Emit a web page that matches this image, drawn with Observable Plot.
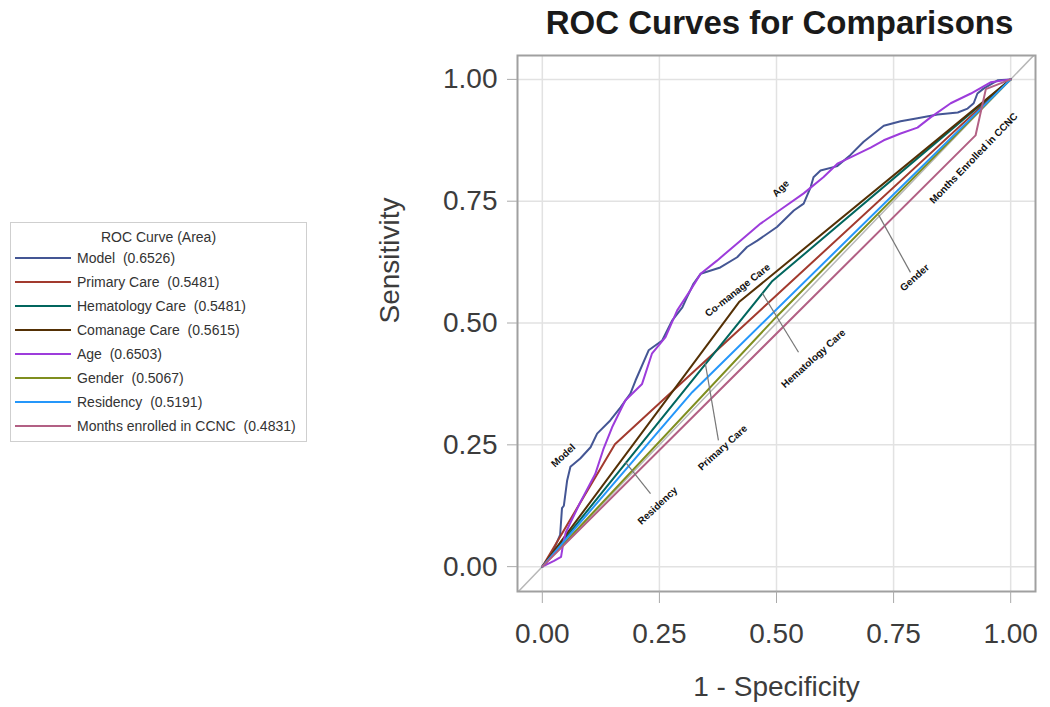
<!DOCTYPE html>
<html><head><meta charset="utf-8">
<script src="https://cdn.jsdelivr.net/npm/d3@7"></script>
<script src="https://cdn.jsdelivr.net/npm/@observablehq/plot@0.6"></script>
<style>
body{margin:0;background:#fff;font-family:"Liberation Sans",Arial,sans-serif;}
#wrap{position:relative;width:1050px;height:707px;overflow:hidden;}
#chart{position:absolute;left:0;top:0;}
#title{position:absolute;left:517px;width:525px;top:5px;line-height:36px;text-align:center;font-weight:bold;font-size:33px;color:#1a1a1a;}
#legend{position:absolute;left:10px;top:222px;width:297px;height:220px;border:1px solid #cfcfcf;box-sizing:border-box;background:#fff;}
.lt{position:absolute;left:0;width:295px;text-align:center;font-size:14px;color:#333;}
.row{position:absolute;left:0;height:18px;line-height:18px;font-size:14px;color:#333;white-space:pre;}
.sw{position:absolute;left:4px;top:8px;width:56px;height:0;border-top:2px solid;}
.tx{position:absolute;left:66px;top:0;}
</style></head>
<body>
<div id="wrap">
  <div id="chart"></div>
  <div id="title">ROC Curves for Comparisons</div>
  <div id="legend"></div>
</div>
<script>
// ---- data ----
const seriesNames = ["Model", "Primary Care", "Hematology Care", "Comanage Care", "Age", "Gender", "Residency", "Months enrolled in CCNC"];
const seriesAreas = ["0.6526", "0.5481", "0.5481", "0.5615", "0.6503", "0.5067", "0.5191", "0.4831"];
const seriesColors = ["#445694", "#A23A2E", "#01665E", "#543005", "#9D3CDB", "#7F8E1F", "#2597FA", "#B26084"];

const modelPts = [[0,0],[0.02,0.025],[0.038,0.065],[0.042,0.12],[0.046,0.125],[0.053,0.177],[0.06,0.205],[0.081,0.222],[0.103,0.245],[0.117,0.273],[0.145,0.3],[0.167,0.327],[0.188,0.355],[0.199,0.382],[0.227,0.444],[0.256,0.464],[0.277,0.505],[0.299,0.532],[0.309,0.553],[0.323,0.581],[0.338,0.601],[0.38,0.614],[0.416,0.635],[0.437,0.656],[0.459,0.669],[0.501,0.697],[0.537,0.731],[0.558,0.745],[0.573,0.779],[0.579,0.799],[0.594,0.813],[0.63,0.822],[0.658,0.845],[0.686,0.872],[0.729,0.905],[0.765,0.914],[0.801,0.92],[0.844,0.928],[0.887,0.932],[0.908,0.94],[0.921,0.951],[0.929,0.971],[0.942,0.981],[0.972,0.998],[1,1]];
const primaryPts = [[0,0],[0.155,0.251],[1,1]];
const hematologyPts = [[0,0],[0.49,0.585],[1,1]];
const comanagePts = [[0,0],[0.42,0.543],[1,1]];
const agePts = [[0,0],[0.025,0.012],[0.04,0.02],[0.045,0.05],[0.05,0.07],[0.08,0.13],[0.113,0.19],[0.13,0.24],[0.149,0.286],[0.177,0.341],[0.213,0.375],[0.234,0.437],[0.263,0.471],[0.288,0.526],[0.316,0.567],[0.338,0.601],[0.373,0.628],[0.423,0.669],[0.466,0.704],[0.515,0.737],[0.558,0.766],[0.6,0.799],[0.63,0.827],[0.658,0.84],[0.701,0.86],[0.729,0.875],[0.765,0.889],[0.801,0.901],[0.829,0.922],[0.872,0.951],[0.915,0.971],[0.957,0.994],[1,1]];
const genderPts = [[0,0],[0.5,0.513],[1,1]];
const residencyPts = [[0,0],[0.32,0.358],[1,1]];
const monthsPts = [[0,0],[0.925,0.885],[0.947,0.98],[1,1]];
const seriesPoints = [modelPts, primaryPts, hematologyPts, comanagePts, agePts, genderPts, residencyPts, monthsPts];

const tickValues = [0, 0.25, 0.5, 0.75, 1];
const xDomain = [-0.053, 1.053];
const yDomain = [-0.051, 1.049];

// curve labels (data units) and leader lines
const curveLabels = ["Model", "Age", "Co-manage Care", "Residency", "Primary Care", "Hematology Care", "Gender", "Months Enrolled in CCNC"];
const labelX = [0.045, 0.509, 0.417, 0.246, 0.385, 0.579, 0.795, 0.921];
const labelY = [0.228, 0.776, 0.567, 0.125, 0.244, 0.427, 0.593, 0.838];
const labelAngle = [-43, -45, -38, -43, -42, -42, -42, -46];
const leaderFrom = [[0.177,0.215],[0.348,0.417],[0.47,0.561],[0.718,0.722]];
const leaderTo = [[0.231,0.15],[0.376,0.259],[0.547,0.44],[0.786,0.604]];

// ---- build ----
const font = '"Liberation Sans", Arial, sans-serif';
const curveMarks = seriesPoints.map((pts, i) => Plot.line(pts, {x: d => d[0], y: d => d[1], stroke: seriesColors[i], strokeWidth: 2}));
const labelData = curveLabels.map((t, i) => ({t, x: labelX[i], y: labelY[i], r: labelAngle[i]}));
const leaderData = leaderFrom.map((f, i) => ({x1: f[0], y1: f[1], x2: leaderTo[i][0], y2: leaderTo[i][1]}));
const diag = [[xDomain[0] - 0.05, xDomain[0] - 0.05], [xDomain[1] + 0.05, xDomain[1] + 0.05]];

const chart = Plot.plot({
  width: 1050, height: 707,
  marginLeft: 517, marginRight: 15, marginTop: 55, marginBottom: 116,
  x: {domain: xDomain},
  y: {domain: yDomain},
  style: {fontFamily: font, background: "white"},
  marks: [
    Plot.gridX(tickValues, {stroke: "#e2e2e2", strokeOpacity: 1, strokeWidth: 1.5}),
    Plot.gridY(tickValues, {stroke: "#e2e2e2", strokeOpacity: 1, strokeWidth: 1.5}),
    Plot.line(diag, {x: d => d[0], y: d => d[1], stroke: "#b8b8b8", strokeWidth: 1.5, clip: true}),
    ...curveMarks,
    Plot.link(leaderData, {x1: "x1", y1: "y1", x2: "x2", y2: "y2", stroke: "#777", strokeWidth: 1.2}),
    ...labelData.map(d => Plot.text([d], {x: "x", y: "y", text: "t", rotate: d.r, fontSize: 10, fontWeight: "bold", fill: "#111"})),
    Plot.frame({stroke: "#a0a0a0", strokeWidth: 2}),
    Plot.axisX(tickValues, {tickFormat: d3.format(".2f"), tickSize: 12, tickPadding: 20, fontSize: 28, stroke: "#aaa", fill: "#3c3c3c", label: null}),
    Plot.axisY(tickValues, {tickFormat: d3.format(".2f"), tickSize: 10, tickPadding: 10, fontSize: 28, stroke: "#aaa", fill: "#3c3c3c", label: null}),
    Plot.text(["1 - Specificity"], {frameAnchor: "bottom", dy: 96, lineAnchor: "middle", fontSize: 28, fill: "#3c3c3c"}),
    Plot.text(["Sensitivity"], {frameAnchor: "left", dx: -127, rotate: -90, lineAnchor: "middle", fontSize: 28, fill: "#3c3c3c"})
  ]
});
document.getElementById("chart").appendChild(chart);

// legend
const lg = document.getElementById("legend");
const lt = document.createElement("div");
lt.className = "lt"; lt.style.top = "6px"; lt.textContent = "ROC Curve (Area)";
lg.appendChild(lt);
seriesNames.forEach((n, i) => {
  const r = document.createElement("div");
  r.className = "row";
  r.style.top = (26 + 24 * i) + "px";
  r.innerHTML = `<div class="sw" style="border-color:${seriesColors[i]}"></div><div class="tx"></div>`;
  r.querySelector(".tx").textContent = `${n}  (${seriesAreas[i]})`;
  lg.appendChild(r);
});
</script>
</body></html>
